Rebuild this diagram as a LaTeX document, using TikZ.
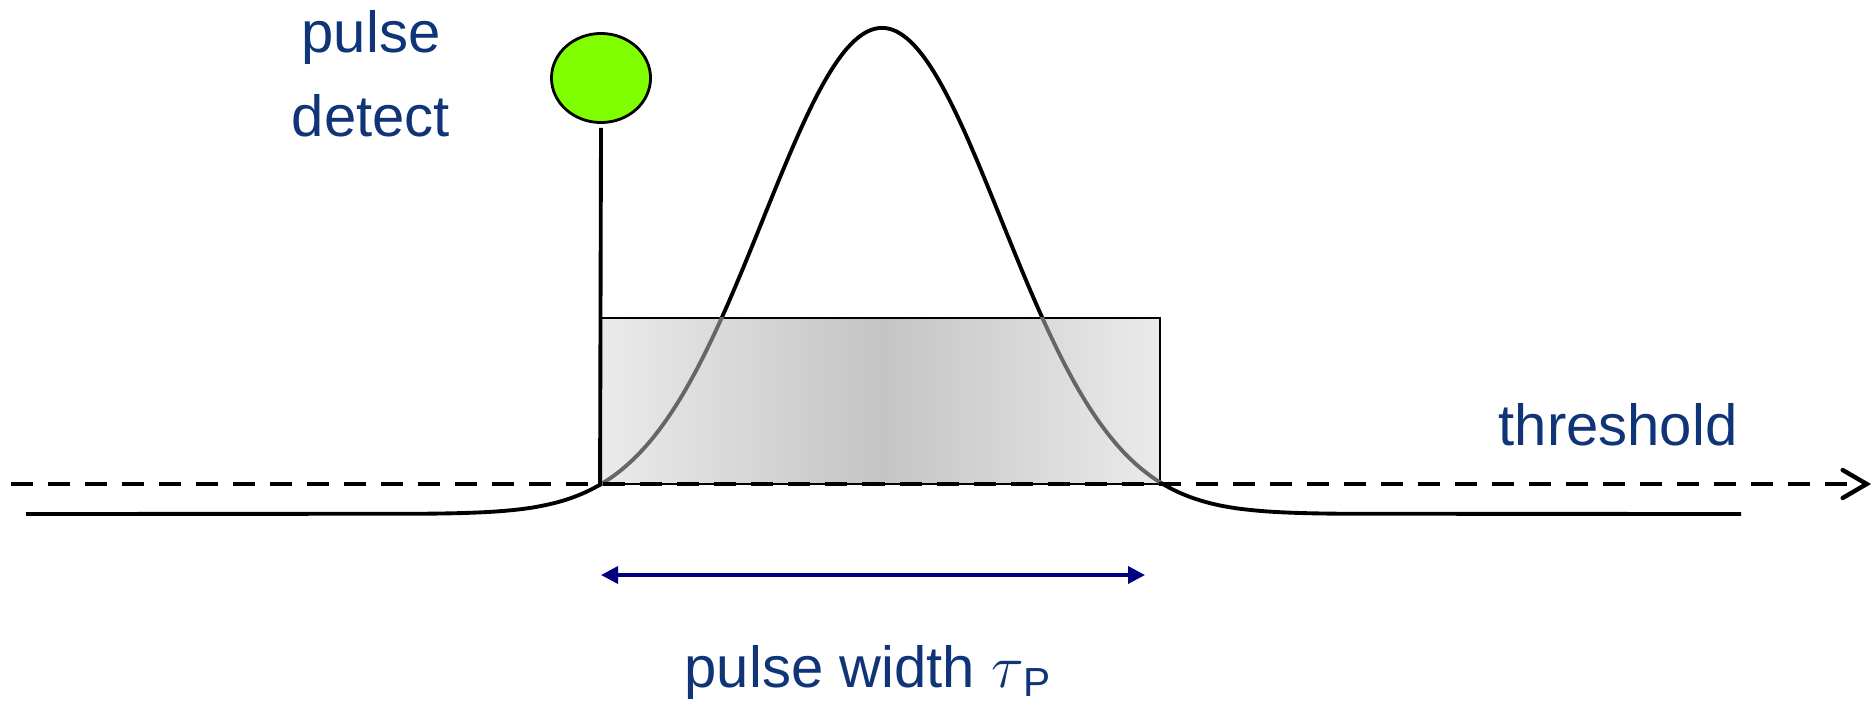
\documentclass[tikz,border=0pt]{standalone}
\usepackage{fontspec}
\setmainfont{Liberation Sans}
\usetikzlibrary{shapes.geometric,arrows.meta,positioning}

\definecolor{textblue}{RGB}{16,52,120}
\definecolor{ledgreen}{RGB}{128,255,0}
\definecolor{widthblue}{RGB}{0,0,128}

\begin{document}
\begin{tikzpicture}[x=0.01cm, y=-0.01cm,
    txt/.style={font=\fontsize{16.5}{23.9}\selectfont, text=textblue, inner sep=0pt},
    signal/.style={line width=1.1pt, draw=black},
    led/.style={ellipse, draw, line width=0.8pt, fill=ledgreen, minimum width=0.99cm, minimum height=0.89cm, inner sep=0pt},
    gatebox/.style={draw=black, line width=0.45pt, minimum width=5.59cm, minimum height=1.66cm, inner sep=0pt,
        left color=black!8, right color=black!8, middle color=black!23},
    thr/.style={line width=1.25pt, dash pattern=on 0.22cm off 0.15cm, -{Straight Barb[length=0.24cm, width=0.28cm, line cap=round]}},
    widtharrow/.style={draw=widthblue, line width=1pt, {Triangle[length=0.17cm, width=0.17cm]}-{Triangle[length=0.17cm, width=0.17cm]}},
]
\useasboundingbox (0,0) rectangle (1874,703);

% baseline and gaussian pulse (pixel units)
\coordinate (bl) at (26,514);
\coordinate (br) at (1741,514);
\draw[signal] (bl) -- plot[domain=-4.6:4.6, samples=150, smooth] ({882+100*\x}, {514-486*exp(-(\x*\x)/2.832)}) -- (br);

% gate window
\node[gatebox] (gate) at (880.5,401) {};
\begin{scope}
  \clip (gate.south west) rectangle (gate.north east);
  \draw[signal, draw=black!60] plot[domain=-3.2:3.2, samples=100, smooth] ({882+100*\x}, {514-486*exp(-(\x*\x)/2.832)});
\end{scope}

% pulse detect
\node[led] (led) at (601,78) {};
\draw[signal] ([yshift=-0.04cm]led.south) -- (gate.south west);
\node[txt, align=center, anchor=north] (pd) at (371,10) {pulse\\detect};

% threshold
\coordinate (thstart) at (11,484);
\coordinate (thend) at (1871,484);
\draw[thr] (thstart) -- (thend);
\node[txt, anchor=base] (thlabel) at (1618,445) {threshold};

% pulse width
\coordinate (wl) at (601,575);
\coordinate (wr) at (1145,575);
\draw[widtharrow] (wl) -- (wr);
\node[txt, anchor=base west] (pwlabel) at (684,687) {pulse width $\tau$\textsubscript{P}};

\end{tikzpicture}
\end{document}
